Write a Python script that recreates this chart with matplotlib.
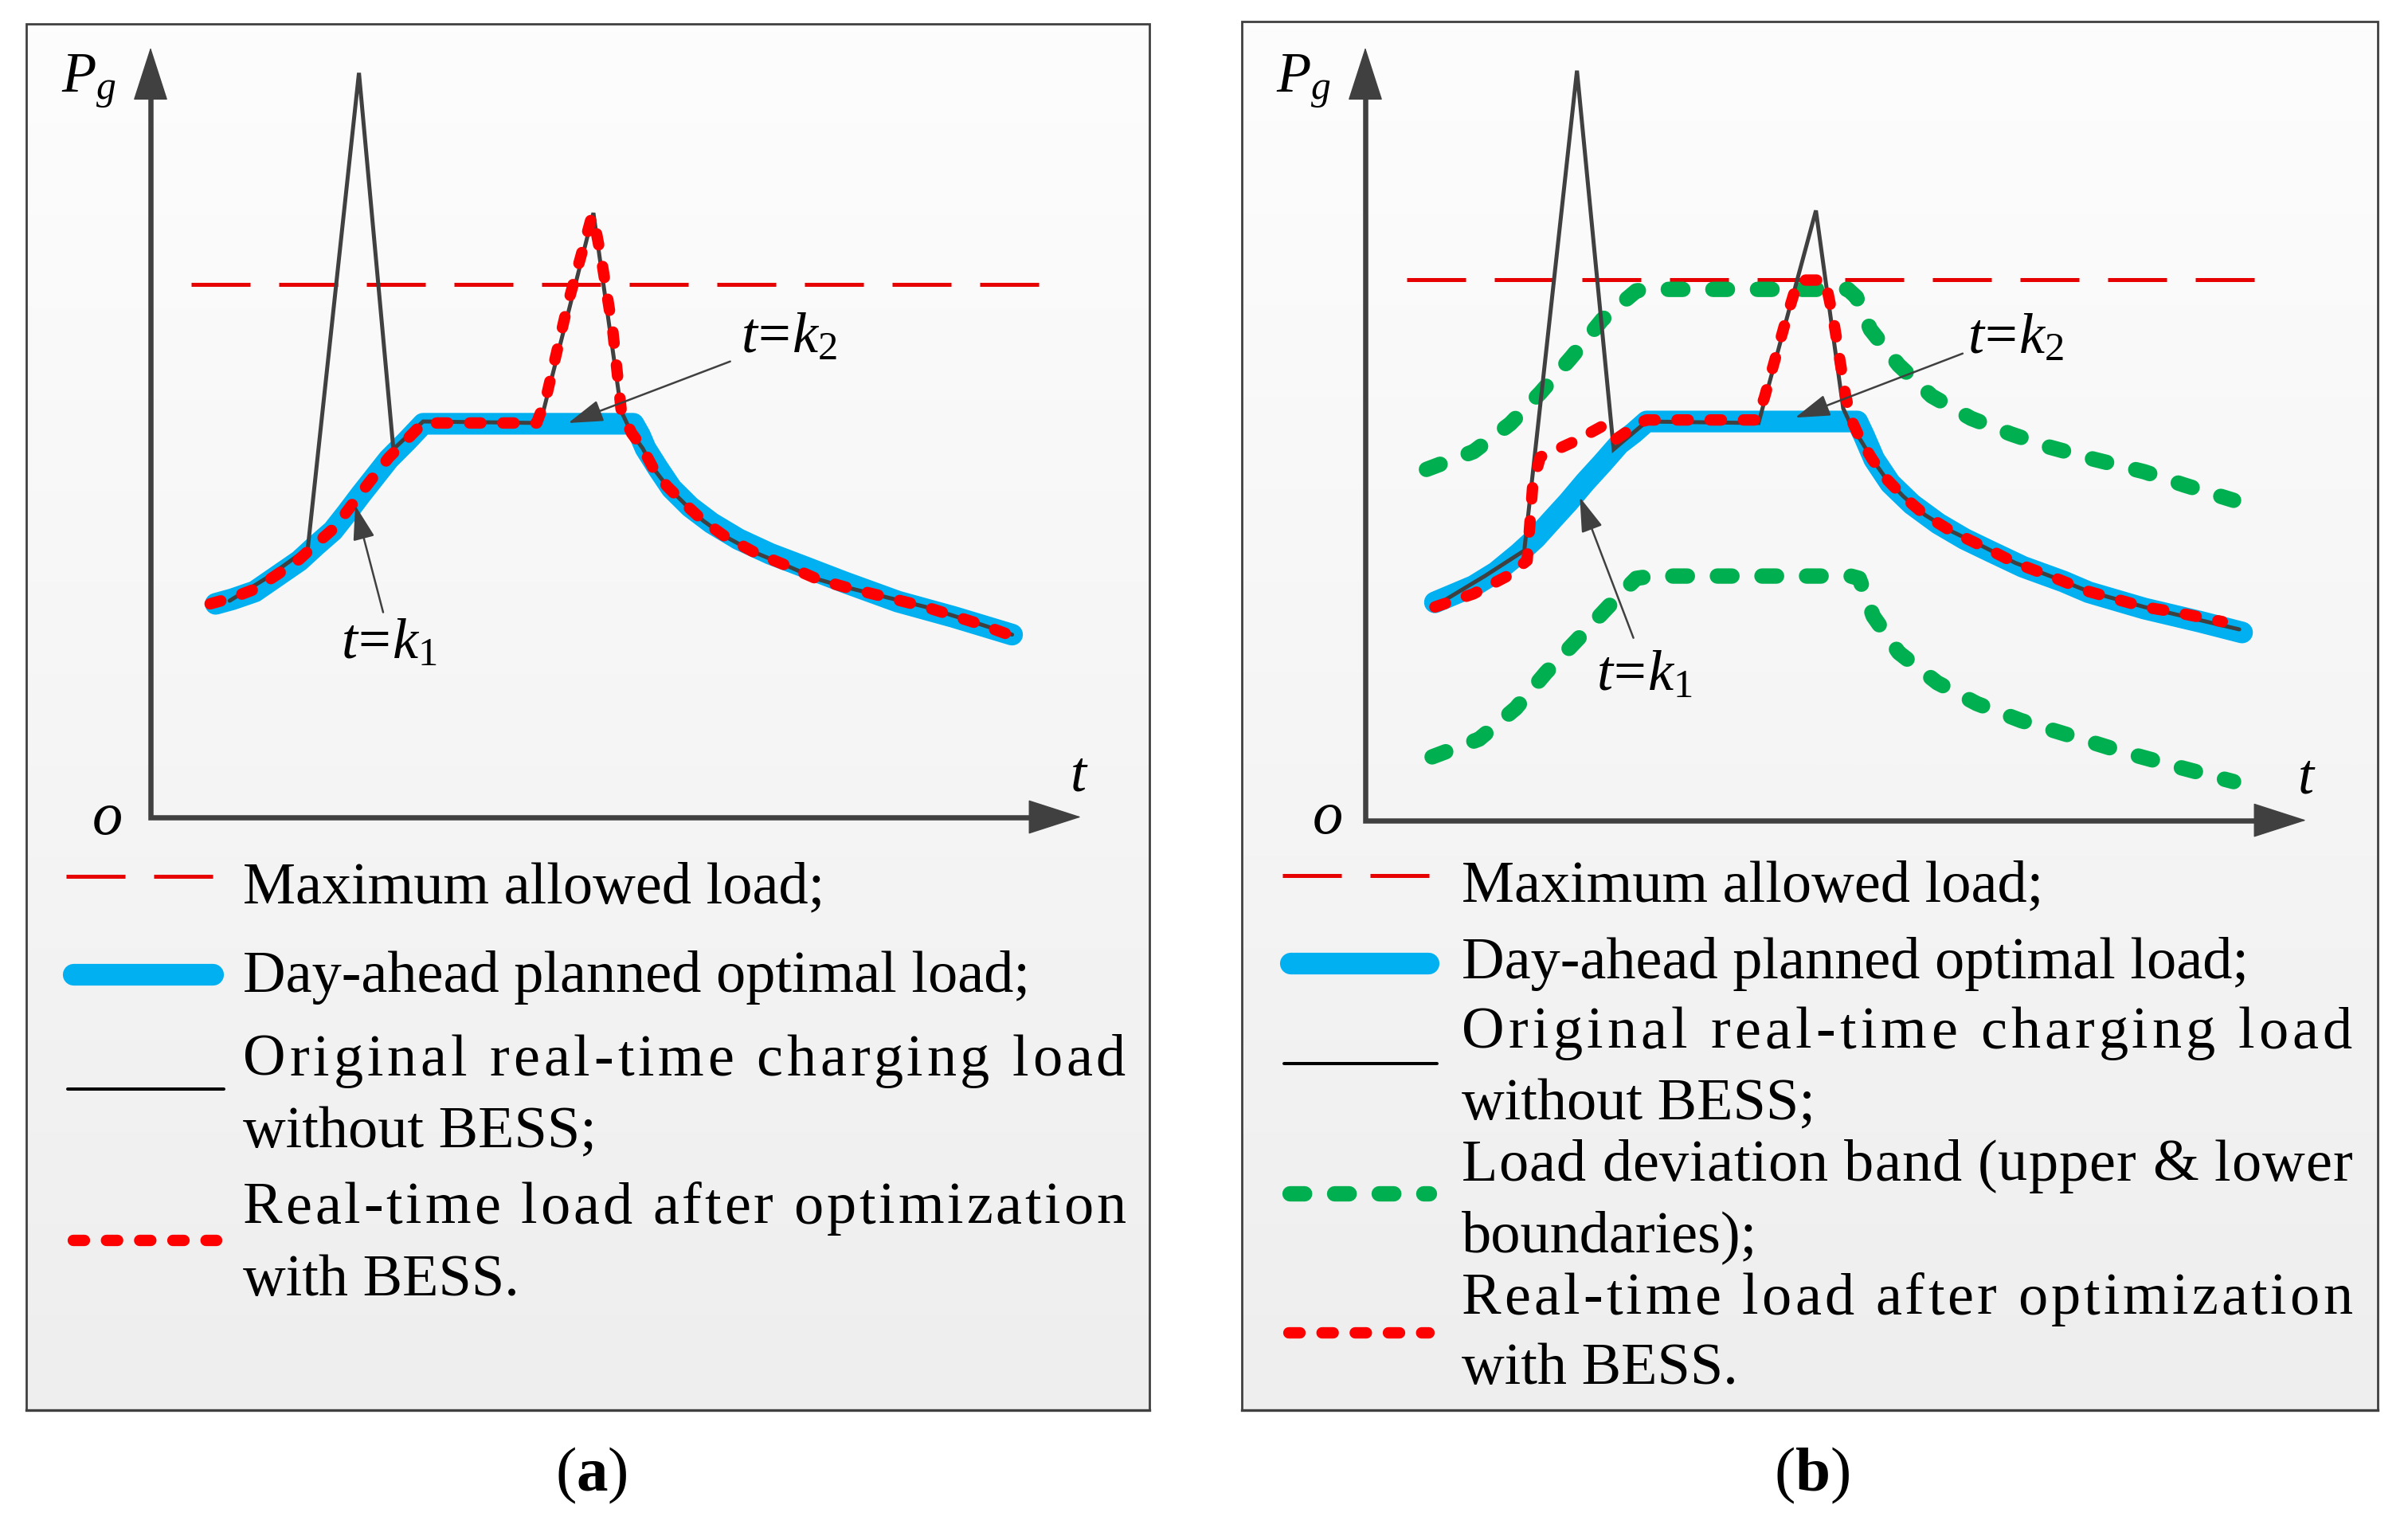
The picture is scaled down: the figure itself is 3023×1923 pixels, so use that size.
import numpy as np
import matplotlib
matplotlib.use("Agg")
import matplotlib.pyplot as plt
from matplotlib.patches import Rectangle, FancyArrowPatch, ArrowStyle
from matplotlib.colors import LinearSegmentedColormap
from matplotlib.font_manager import FontProperties

plt.rcParams['font.family'] = ['Liberation Serif', 'DejaVu Serif']
plt.rcParams['mathtext.fontset'] = 'custom'
plt.rcParams['mathtext.rm'] = 'Liberation Serif'
plt.rcParams['mathtext.it'] = 'Liberation Serif:italic'
plt.rcParams['mathtext.bf'] = 'Liberation Serif:bold'
plt.rcParams['lines.scale_dashes'] = False

# ---------------------------------------------------------------- data
# panel (a)
a_max_load = 6.92
a_max_span = [0.44, 9.59]
a_plan_t = [0.70, 0.88, 1.12, 1.36, 1.60, 1.78, 1.96, 2.11, 2.26, 2.41, 2.56, 2.75, 2.93,
            5.19, 5.26, 5.32, 5.45, 5.60, 5.80, 6.03, 6.32, 6.66, 7.03, 7.46, 8.03, 8.63, 9.26]
a_plan_p = [2.77, 2.83, 2.93, 3.13, 3.33, 3.53, 3.72, 3.95, 4.19, 4.42, 4.65, 4.88, 5.11,
            5.11, 4.96, 4.79, 4.54, 4.27, 4.03, 3.82, 3.61, 3.42, 3.25, 3.05, 2.80, 2.60, 2.37]
a_orig_t = [0.85, 1.24, 1.69, 2.24, 2.61, 2.93, 4.19, 4.76, 5.06, 5.17, 5.29, 5.40, 5.55, 5.75,
            5.94, 6.17, 6.49, 6.83, 7.17, 7.46, 8.33, 8.93, 9.26]
a_orig_p = [2.81, 3.10, 3.49, 9.67, 4.78, 5.14, 5.12, 7.85, 5.27, 4.99, 4.79, 4.54, 4.30, 4.06,
            3.85, 3.65, 3.44, 3.27, 3.09, 2.99, 2.73, 2.50, 2.37]
a_opt_t = [0.64, 0.88, 1.12, 1.36, 1.60, 1.78, 1.96, 2.11, 2.26, 2.41, 2.56, 2.75, 2.93, 4.15,
           4.25, 4.49, 4.73, 4.76, 4.85, 4.97, 5.06, 5.17, 5.29, 5.40, 5.55, 5.75, 5.94, 6.17,
           6.49, 6.83, 7.17, 7.46, 8.33, 8.93, 9.29]
a_opt_p = [2.77, 2.85, 2.96, 3.15, 3.35, 3.55, 3.74, 3.97, 4.21, 4.44, 4.67, 4.90, 5.12, 5.12,
           5.44, 6.69, 7.75, 7.80, 7.22, 6.30, 5.27, 4.99, 4.79, 4.54, 4.30, 4.06, 3.85, 3.65,
           3.44, 3.27, 3.09, 2.99, 2.73, 2.50, 2.34]

# panel (b)
b_max_load = 7.00
b_max_span = [0.44, 9.585]
b_plan_t = [0.74, 1.15, 1.39, 1.63, 1.81, 1.98, 2.16, 2.34, 2.52, 2.70, 2.85, 2.99,
            5.23, 5.30, 5.41, 5.58, 5.81, 6.09, 6.37, 6.66, 6.99, 7.42, 7.69, 8.28, 8.87, 9.32]
b_plan_p = [2.82, 3.03, 3.21, 3.45, 3.65, 3.88, 4.12, 4.38, 4.62, 4.87, 5.01, 5.16,
            5.16, 4.98, 4.67, 4.36, 4.09, 3.84, 3.64, 3.47, 3.28, 3.09, 2.95, 2.74, 2.57, 2.43]
b_orig_t = [0.86, 1.27, 1.69, 2.25, 2.64, 2.99, 4.18, 4.79, 5.08, 5.16, 5.27, 5.39, 5.53, 5.72,
            5.95, 6.23, 6.57, 6.91, 7.28, 7.69, 8.28, 9.29]
b_orig_p = [2.86, 3.16, 3.49, 9.70, 4.80, 5.16, 5.14, 7.89, 5.33, 5.12, 4.91, 4.67, 4.43, 4.19,
            3.95, 3.74, 3.54, 3.33, 3.16, 2.96, 2.76, 2.47]
b_opt_t = [0.74, 1.15, 1.51, 1.72, 1.74, 1.78, 1.86, 2.22, 2.52, 2.65, 2.93, 2.99, 4.15, 4.24,
           4.48, 4.60, 4.89, 4.98, 5.10, 5.16, 5.27, 5.39, 5.53, 5.72, 5.95, 6.23, 6.57, 6.91,
           7.28, 7.69, 8.28, 8.58, 9.11]
b_opt_p = [2.76, 2.93, 3.16, 3.36, 3.68, 4.34, 4.70, 4.90, 5.10, 4.92, 5.15, 5.18, 5.18, 5.46,
           6.51, 6.99, 6.99, 6.45, 5.53, 5.20, 4.91, 4.67, 4.43, 4.19, 3.95, 3.74, 3.54, 3.33,
           3.16, 2.96, 2.76, 2.70, 2.57]
b_up_t = [0.65, 1.15, 1.54, 1.86, 2.19, 2.52, 2.88, 2.99, 5.13, 5.22, 5.37, 5.67, 6.02, 6.44,
          6.86, 7.27, 7.75, 8.28, 8.70, 9.23]
b_up_p = [4.54, 4.77, 5.13, 5.53, 5.99, 6.48, 6.85, 6.87, 6.87, 6.77, 6.35, 5.89, 5.49, 5.20,
          5.00, 4.83, 4.67, 4.51, 4.34, 4.14]
b_lo_t = [0.71, 1.21, 1.60, 1.92, 2.28, 2.58, 2.88, 3.05, 5.16, 5.25, 5.40, 5.67, 6.08, 6.50,
          6.97, 7.51, 8.04, 8.64, 9.23]
b_lo_p = [0.82, 1.05, 1.45, 1.91, 2.37, 2.76, 3.13, 3.16, 3.16, 3.13, 2.64, 2.17, 1.78, 1.51,
          1.29, 1.09, 0.89, 0.69, 0.50]

legend_a = ["Maximum allowed load;", "Day-ahead planned optimal load;",
            "Original real-time charging load", "without BESS;",
            "Real-time load after optimization", "with BESS."]
legend_b = ["Maximum allowed load;", "Day-ahead planned optimal load;",
            "Original real-time charging load", "without BESS;",
            "Load deviation band (upper & lower", "boundaries);",
            "Real-time load after optimization", "with BESS."]
panel_tags = ["a", "b"]

# ---------------------------------------------------------------- styles
C_AX = '#404040'
C_RED_D = '#e60000'
C_RED = '#ff0000'
C_BLUE = '#00b0f0'
C_GREEN = '#00b050'

ST_MAX = dict(color=C_RED_D, lw=3.6, dashes=(53.3, 25.9), dash_capstyle='butt')
ST_PLAN = dict(color=C_BLUE, lw=19.6, solid_capstyle='round', solid_joinstyle='round')
ST_ORIG = dict(color=C_AX, lw=3.6, solid_capstyle='round', solid_joinstyle='miter')
ST_OPT = dict(color=C_RED, lw=10.3, dashes=(10.1, 19.9), dash_capstyle='round', dash_joinstyle='round')
ST_BAND = dict(color=C_GREEN, lw=13.9, dashes=(13.2, 27.1), dash_capstyle='round', dash_joinstyle='round')

W, H, DPI = 3023, 1923, 100
fig = plt.figure(figsize=(W / DPI, H / DPI), dpi=DPI)
fig.patch.set_facecolor('white')

bg = fig.add_axes([0, 0, 1, 1])
bg.axis('off')

# boxes with gradient
grad = np.linspace(0, 1, 256).reshape(-1, 1)
cm = LinearSegmentedColormap.from_list('g', ['#fdfdfd', '#eeeeee'])
for (x0, x1, y0, y1) in [(33, 1443, 30, 1770), (1559, 2985, 27, 1770)]:
    bg.imshow(grad, extent=(x0, x1, y1, y0), cmap=cm, aspect='auto', zorder=0,
              interpolation='bilinear')
    bg.add_patch(Rectangle((x0, y0), x1 - x0, y1 - y0, fill=False, ec=C_AX, lw=2.0, zorder=1))
    bg.plot([x0, x1], [y1 - 0.5, y1 - 0.5], color=C_AX, lw=2.4, zorder=1)
bg.set_xlim(0, W)
bg.set_ylim(H, 0)

renderer = fig.canvas.get_renderer()


def text_w(s, size):
    fp = FontProperties(family='Liberation Serif', size=size)
    w, h, d = renderer.get_text_width_height_descent(s, fp, ismath=False)
    return w


def put_line(x0, y, s, size, x1=None):
    if x1 is None:
        bg.text(x0, y, s, fontsize=size, ha='left', va='baseline', zorder=5)
        return
    natural = text_w(s, size)
    extra = (x1 - x0 - natural) / (len(s) - 1)
    wbar = text_w('|', size)
    for i, ch in enumerate(s):
        if ch == ' ':
            continue
        pen = 0.0 if i == 0 else text_w(s[:i] + '|', size) - wbar
        bg.text(x0 + pen + i * extra, y, ch, fontsize=size, ha='left', va='baseline', zorder=5)


# ---------------------------------------------------------------- panels
def make_panel(px0, py0, pxt, pyt):
    ax = fig.add_axes([px0 / W, 1 - py0 / H, (pxt - px0) / W, (py0 - pyt) / H])
    ax.set_xlim(0, 10)
    ax.set_ylim(0, 10)
    ax.axis('off')
    ax.patch.set_alpha(0)
    ax.plot([0, 0, 9.6], [9.5, 0, 0], color=C_AX, lw=4.7, solid_joinstyle='miter',
            solid_capstyle='butt', clip_on=False, zorder=3)
    for a, b in [((0, 9.0), (0, 10)), ((9.0, 0), (10, 0))]:
        ax.add_patch(FancyArrowPatch(a, b, arrowstyle=ArrowStyle('-|>', head_length=45, head_width=14.5),
                                     mutation_scale=1, lw=1.0, color=C_AX, shrinkA=0, shrinkB=0,
                                     clip_on=False, zorder=3))
    return ax


def annotate_k(ax, txt, tpos, start, tip):
    ax.text(tpos[0], tpos[1], txt, fontsize=52, ha='center', va='center', zorder=8)
    ax.add_patch(FancyArrowPatch(start, tip, arrowstyle=ArrowStyle('-|>', head_length=27, head_width=8.5),
                                 mutation_scale=1, lw=1.8, color=C_AX, shrinkA=0, shrinkB=0,
                                 clip_on=False, zorder=9))


def axis_labels(ax, pg, o, t):
    ax.text(pg[0], pg[1], r'$P_g$', fontsize=51, ha='left', va='baseline')
    ax.text(o[0], o[1], 'o', fontsize=55, style='italic', ha='center', va='center')
    ax.text(t[0], t[1], 't', fontsize=52, style='italic', ha='center', va='center')


# panel (a)
ax_a = make_panel(189, 1025.5, 1357, 59.6)
ax_a.plot(a_max_span, [a_max_load] * 2, zorder=4, clip_on=False, **ST_MAX)
ax_a.plot(a_plan_t, a_plan_p, zorder=5, clip_on=False, **ST_PLAN)
ax_a.plot(a_orig_t, a_orig_p, zorder=6, clip_on=False, **ST_ORIG)
ax_a.plot(a_opt_t, a_opt_p, zorder=7, clip_on=False, **ST_OPT)
annotate_k(ax_a, r'$t\!=\!k_2$', (6.86, 6.22), (6.23, 5.92), (4.49, 5.12))
annotate_k(ax_a, r'$t\!=\!k_1$', (2.56, 2.25), (2.50, 2.66), (2.20, 4.05))
axis_labels(ax_a, (-0.96, 9.41), (-0.46, -0.03), (9.97, 0.52))

# panel (b)
ax_b = make_panel(1714, 1029.6, 2895, 59.6)
ax_b.plot(b_max_span, [b_max_load] * 2, zorder=4, clip_on=False, **ST_MAX)
ax_b.plot(b_plan_t, b_plan_p, zorder=5, clip_on=False, **ST_PLAN)
ax_b.plot(b_up_t, b_up_p, zorder=5.5, clip_on=False, **ST_BAND)
ax_b.plot(b_lo_t, b_lo_p, zorder=5.5, clip_on=False, **ST_BAND)
ax_b.plot(b_orig_t, b_orig_p, zorder=6, clip_on=False, **ST_ORIG)
ax_b.plot(b_opt_t, b_opt_p, zorder=7, clip_on=False, **ST_OPT)
annotate_k(ax_b, r'$t\!=\!k_2$', (6.91, 6.23), (6.35, 6.04), (4.57, 5.21))
annotate_k(ax_b, r'$t\!=\!k_1$', (2.97, 1.87), (2.85, 2.36), (2.28, 4.18))
axis_labels(ax_b, (-0.95, 9.42), (-0.40, 0.02), (10.0, 0.53))

# ---------------------------------------------------------------- legends
LS = 53.5
# (a)
bg.plot([83, 268], [1100, 1100], zorder=4, **ST_MAX)
bg.plot([92, 267], [1223, 1223], zorder=4, **ST_PLAN)
bg.plot([85, 281], [1367, 1367], color='black', lw=2.9, solid_capstyle='round', zorder=4)
bg.plot([92, 272], [1557, 1557], zorder=4, **ST_OPT)
ya = [1133, 1245, 1350, 1440, 1535, 1626]
jus_a = [None, None, 1413, None, 1413, None]
for s, y, x1 in zip(legend_a, ya, jus_a):
    put_line(305, y, s, LS, x1)

# (b)
bg.plot([1610, 1797], [1099, 1099], zorder=4, **ST_MAX)
bg.plot([1619.5, 1792.5], [1209, 1209], zorder=4, **ST_PLAN)
bg.plot([1612, 1804], [1335, 1335], color='black', lw=2.9, solid_capstyle='round', zorder=4)
bg.plot([1618.6, 1794], [1498, 1498], zorder=4, **ST_BAND)
bg.plot([1618, 1794], [1673, 1673], zorder=4, **ST_OPT)
yb = [1131, 1228, 1315, 1405, 1482, 1571, 1649, 1737]
jus_b = [None, None, 2953, None, 2953, None, 2953, None]
for s, y, x1 in zip(legend_b, yb, jus_b):
    put_line(1835, y, s, LS, x1)

# panel tags
for tag, xc in zip(panel_tags, [742, 2275]):
    bg.text(xc, 1852, r'($\mathbf{%s}$)' % tag, fontsize=57, ha='center', va='center')

fig.savefig('out.png', dpi=DPI)
